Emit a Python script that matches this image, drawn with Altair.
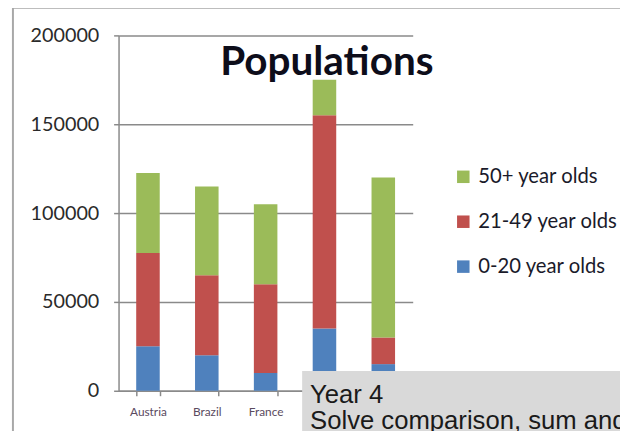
import altair as alt
import pandas as pd

countries = ["Austria", "Brazil", "France", "India", "Japan"]
age_0_20 = [25000, 20000, 10000, 35000, 15000]
age_21_49 = [52500, 45000, 50000, 120000, 15000]
age_50_plus = [45000, 50000, 45000, 20000, 90000]
groups = ["0-20 year olds", "21-49 year olds", "50+ year olds"]
legend_order = ["50+ year olds", "21-49 year olds", "0-20 year olds"]
colors = ["#9BBB59", "#C0504D", "#4F81BD"]
y_ticks = [0, 50000, 100000, 150000, 200000]
title_text = "Populations"
note_lines = ["Year 4", "Solve comparison, sum and"]

rows = []
for i, c in enumerate(countries):
    for rank, (g, vals) in enumerate(zip(groups, [age_0_20, age_21_49, age_50_plus])):
        rows.append({"country": c, "group": g, "value": vals[i], "rank": rank})
df = pd.DataFrame(rows)

one = pd.DataFrame({"t": [title_text]})

bars = alt.Chart(df).mark_bar().encode(
    x=alt.X("country:N", sort=countries, title=None,
            scale=alt.Scale(paddingInner=0.6, paddingOuter=0.3),
            axis=alt.Axis(labelFontSize=12, labelColor="#5a4a5e", labelPadding=11,
                          tickBand="extent", tickSize=5, tickColor="#8a8a8a",
                          domainColor="#8a8a8a", domainWidth=1.5, tickWidth=1.5,
                          labelAngle=0, labelFont="Lato")),
    y=alt.Y("value:Q", stack="zero", title=None,
            scale=alt.Scale(domain=[0, 200000], nice=False),
            axis=alt.Axis(values=y_ticks, format="d", labelFontSize=20, labelFont="Lato",
                          labelColor="#2a2a2a", labelPadding=15, tickSize=5,
                          tickColor="#8a8a8a", tickWidth=1.5, domainColor="#8a8a8a",
                          domainWidth=1.5, gridColor="#8a8a8a", gridWidth=1.5)),
    color=alt.Color("group:N", scale=alt.Scale(domain=legend_order, range=colors),
                    legend=alt.Legend(title=None, orient="none", legendX=339, legendY=133,
                                      symbolType="square", symbolSize=160,
                                      symbolStrokeWidth=0, labelFontSize=20.5,
                                      labelFont="Lato", labelColor="#1a1a2a",
                                      rowPadding=24.5, labelOffset=5)),
    order=alt.Order("rank:Q", sort="ascending"),
)

frame = alt.Chart(one).mark_rect(fillOpacity=0, stroke="#a8a8a8", strokeWidth=2).encode(
    x=alt.value(-107), x2=alt.value(520), y=alt.value(-28), y2=alt.value(420))

blue_line = alt.Chart(one).mark_rect(color="#6a9fd8").encode(
    x=alt.value(-122), x2=alt.value(-115), y=alt.value(202), y2=alt.value(420))

title = alt.Chart(one).mark_text(font="Lato", fontWeight="bold", fontSize=41,
                                 color="#0d0d1a", align="center", baseline="alphabetic").encode(
    text="t:N", x=alt.value(211), y=alt.value(40))

box = alt.Chart(one).mark_rect(color="#d9d9d9").encode(
    x=alt.value(186), x2=alt.value(530), y=alt.value(340), y2=alt.value(420))

note_df = pd.DataFrame({"t": note_lines, "yy": [372, 399]})
note = alt.Chart(note_df).mark_text(font="Liberation Sans", fontSize=26, color="#1a1a1a",
                                    align="left", baseline="alphabetic").encode(
    text="t:N", x=alt.value(194), y=alt.Y("yy:Q", scale=None))

chart = alt.layer(frame, blue_line, bars, title, box, note).properties(
    width=298, height=360,
    padding={"left": 112, "top": 25, "right": 210, "bottom": 38},
    autosize=alt.AutoSizeParams(type="none"),
).configure_view(stroke=None)

chart.save("out.html", embed_options={"renderer": "svg", "actions": False})
